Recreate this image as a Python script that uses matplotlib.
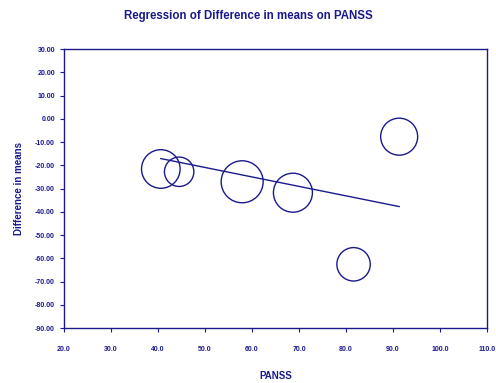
import numpy as np
import matplotlib.pyplot as plt

# Study data
panss = [40.6, 44.5, 57.9, 68.7, 91.3, 81.6]
diff_means = [-21.6, -22.8, -27.1, -31.8, -7.7, -62.6]
weights = [19.3, 14.7, 21.0, 19.5, 18.5, 16.7]  # relative study weight (bubble radius)

# Fitted regression line
intercept = -0.6
slope = -0.407

navy = '#1a1a8c'
plt.rcParams['font.family'] = ['Liberation Sans', 'DejaVu Sans']

fig = plt.figure(figsize=(4.96, 3.83), dpi=100)
ax = fig.add_axes([0.129, 0.1436, 0.853, 0.7284])

sizes = [(2 * w * 0.72) ** 2 for w in weights]
ax.scatter(panss, diff_means, s=sizes, facecolors='none', edgecolors=navy, linewidths=1.0)

xl = np.array([min(panss), max(panss)])
ax.plot(xl, intercept + slope * xl, color=navy, linewidth=1.0)

ax.set_xlim(20, 110)
ax.set_ylim(-90, 30)
ax.set_xticks(np.arange(20, 111, 10))
ax.set_yticks(np.arange(-90, 31, 10))
ax.set_xticklabels([f'{v:.1f}' for v in np.arange(20, 111, 10)])
ax.set_yticklabels([f'{v:.2f}' for v in np.arange(-90, 31, 10)])
ax.tick_params(colors=navy, labelsize=5, length=3, width=0.8)
ax.tick_params(axis='x', pad=10)
for lab in ax.get_xticklabels() + ax.get_yticklabels():
    lab.set_fontweight('bold')
for sp in ax.spines.values():
    sp.set_color(navy)
    sp.set_linewidth(1.0)

ax.set_xlabel('PANSS', color=navy, fontsize=7, fontweight='bold', labelpad=13)
ax.set_ylabel('Difference in means', color=navy, fontsize=7, fontweight='bold', labelpad=8)
fig.suptitle('Regression of Difference in means on PANSS', color=navy, fontsize=8.3,
             fontweight='bold', y=0.975)

fig.savefig('out.png', dpi=100)
